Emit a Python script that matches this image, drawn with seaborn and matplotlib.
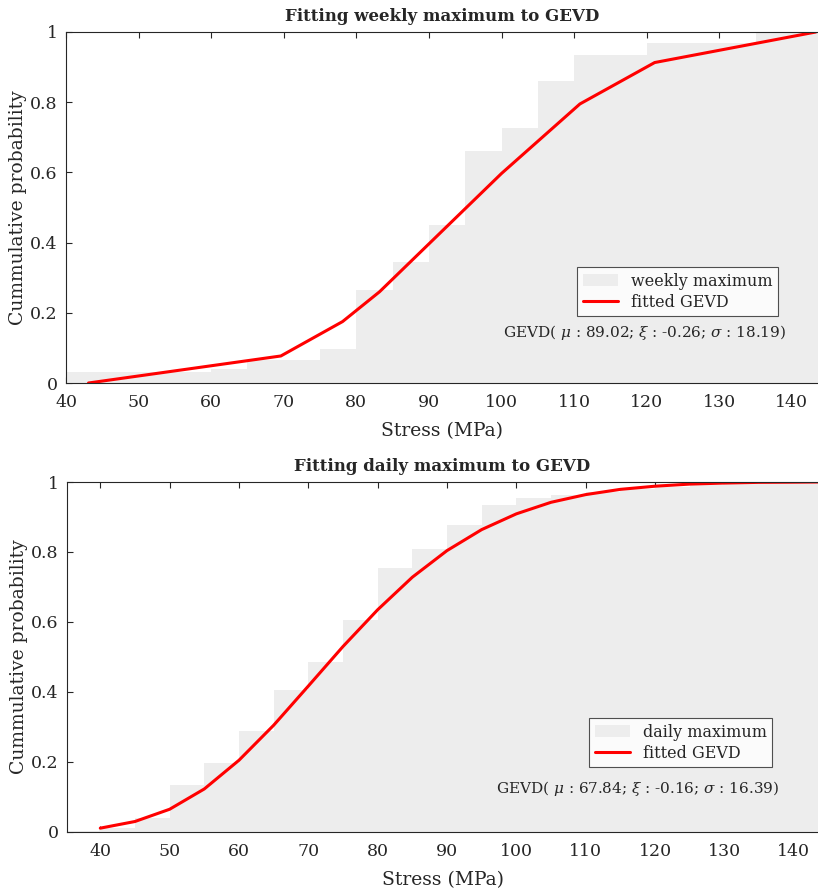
import numpy as np
import matplotlib
matplotlib.use('Agg')
import matplotlib.pyplot as plt
import seaborn as sns

# %% data
# weekly maxima: cumulative histogram (bin lower edges, bin width 5 MPa)
week_bin_left = [40, 45, 50, 55, 60, 65, 70, 75, 80, 85, 90, 95, 100,
                 105, 110, 115, 120, 125, 130, 135, 140]
week_cum = [0.031, 0.031, 0.031, 0.031, 0.040, 0.066, 0.066, 0.097, 0.265,
            0.345, 0.45, 0.66, 0.726, 0.86, 0.934, 0.934, 0.97, 0.97, 0.97,
            1.0, 1.0]
# fitted GEVD evaluated at the plotted points
week_fit_x = [43.1, 69.6, 78.1, 83.2, 100.0, 110.8, 121.1, 143.3]
week_fit_p = [0.0, 0.077, 0.175, 0.26, 0.597, 0.795, 0.913, 1.0]
week_params = (89.02, -0.26, 18.19)

# daily maxima
day_bin_left = [35, 40, 45, 50, 55, 60, 65, 70, 75, 80, 85, 90, 95, 100,
                105, 110, 115, 120, 125, 130, 135, 140]
day_cum = [0.003, 0.012, 0.04, 0.134, 0.196, 0.29, 0.405, 0.487, 0.606,
           0.753, 0.81, 0.877, 0.934, 0.955, 0.962, 0.972, 0.98, 0.985,
           0.99, 0.993, 0.996, 1.0]
day_fit_x = [40, 45, 50, 55, 60, 65, 70, 75, 80, 85, 90, 95, 100, 105,
             110, 115, 120, 125, 130, 135, 140, 143.5]
day_fit_p = [0.011, 0.030, 0.065, 0.123, 0.205, 0.305, 0.417, 0.530, 0.635,
             0.728, 0.804, 0.864, 0.909, 0.942, 0.964, 0.979, 0.988, 0.994,
             0.997, 0.999, 0.9995, 1.0]
day_params = (67.84, -0.16, 16.39)

# %% style
sns.set_style('white')
plt.rcParams['font.family'] = ['DejaVu Serif']
plt.rcParams['mathtext.fontset'] = 'dejavuserif'

W, H = 818, 893
fig = plt.figure(figsize=(W / 100, H / 100), dpi=100)

BAR = '#ededed'
INK = '#262626'


def px_axes(left, top, right, bottom):
    return fig.add_axes([left / W, 1 - bottom / H, (right - left) / W,
                         (bottom - top) / H])


def panel(ax, bin_left, cum, fit_x, fit_p, params, name, title, xlim,
          legend_box, text_xy):
    edges = list(bin_left) + [bin_left[-1] + 5]
    centers = [b + 2.5 for b in bin_left]
    sns.histplot(x=centers, weights=cum, bins=edges, ax=ax, color=BAR,
                 alpha=1, edgecolor='none', linewidth=0, label=name)
    sns.lineplot(x=fit_x, y=fit_p, ax=ax, color='red', lw=2.2,
                 label='fitted GEVD', sort=False)
    ax.set_xlim(*xlim)
    ax.set_ylim(0, 1)
    ax.set_xticks(np.arange(40, 141, 10))
    ax.set_yticks([0, 0.2, 0.4, 0.6, 0.8, 1])
    ax.set_yticklabels(['0', '0.2', '0.4', '0.6', '0.8', '1'])
    ax.tick_params(direction='in', top=True, bottom=True, left=True,
                   labelsize=12.5, length=4, width=0.8, colors=INK)
    ax.tick_params(axis='x', pad=8)
    ax.tick_params(axis='y', pad=6)
    ax.spines['right'].set_visible(False)
    for s in ['left', 'top', 'bottom']:
        ax.spines[s].set_color(INK)
        ax.spines[s].set_linewidth(0.8)
    ax.set_xlabel('Stress (MPa)', fontsize=13.5, labelpad=8, color=INK)
    ax.set_ylabel('Cummulative probability', fontsize=13.5, labelpad=2,
                  color=INK)
    ax.set_title(title, fontsize=12, fontweight='bold', pad=8)

    handles, labels = ax.get_legend_handles_labels()
    order = [labels.index(name), labels.index('fitted GEVD')]
    lx, ly = legend_box
    leg = ax.legend([handles[i] for i in order], [labels[i] for i in order],
                    loc='upper left', bbox_to_anchor=(lx / W, 1 - ly / H),
                    bbox_transform=fig.transFigure, fontsize=11.5,
                    frameon=True, fancybox=False, handlelength=2.2,
                    borderpad=0.35, labelspacing=0.25, handletextpad=0.8,
                    borderaxespad=0)
    leg.get_frame().set_edgecolor(INK)
    leg.get_frame().set_linewidth(0.8)
    for t in leg.get_texts():
        t.set_color(INK)
    mu, xi, sg = params
    tx, ty = text_xy
    fig.text(tx / W, 1 - ty / H,
             r'GEVD( $\mu$ : %.2f; $\xi$ : %.2f; $\sigma$ : %.2f)' % (mu, xi, sg),
             fontsize=11, ha='left', va='center', color=INK)


ax1 = px_axes(66, 32, 818, 383)
panel(ax1, week_bin_left, week_cum, week_fit_x, week_fit_p, week_params,
      'weekly maximum', 'Fitting weekly maximum to GEVD', (40, 143.6),
      (577, 267), (503, 333))

ax2 = px_axes(67, 482, 818, 832)
panel(ax2, day_bin_left, day_cum, day_fit_x, day_fit_p, day_params,
      'daily maximum', 'Fitting daily maximum to GEVD', (35.2, 143.5),
      (589, 718), (496, 789))

fig.savefig('out.png', dpi=100)
